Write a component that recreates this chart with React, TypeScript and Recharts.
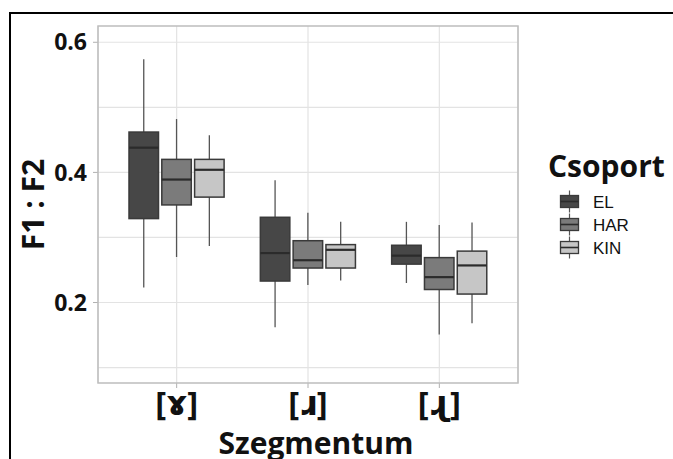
import { ComposedChart, Bar, XAxis, YAxis, CartesianGrid, Label } from 'recharts'

// segments on the x axis, groups side by side inside each
const segments = ['[ɤ]', '[ɹ]', '[ɻ]']
const groups = ['EL', 'HAR', 'KIN']

// five-number summaries, one value per segment
const elMin = [0.223, 0.162, 0.230]
const elQ1 = [0.329, 0.233, 0.259]
const elMed = [0.438, 0.276, 0.272]
const elQ3 = [0.462, 0.331, 0.288]
const elMax = [0.574, 0.388, 0.324]

const harMin = [0.270, 0.227, 0.151]
const harQ1 = [0.350, 0.253, 0.220]
const harMed = [0.389, 0.265, 0.239]
const harQ3 = [0.420, 0.295, 0.269]
const harMax = [0.482, 0.338, 0.319]

const kinMin = [0.287, 0.234, 0.168]
const kinQ1 = [0.362, 0.253, 0.213]
const kinMed = [0.404, 0.281, 0.257]
const kinQ3 = [0.420, 0.289, 0.279]
const kinMax = [0.457, 0.324, 0.323]

const yDomain = [0.0763, 0.625]
const yTicks = [0.2, 0.4, 0.6]
const gridValues = [0.1, 0.2, 0.3, 0.4, 0.5, 0.6]

const FILLS: Record<string, string> = { EL: '#474747', HAR: '#7b7b7b', KIN: '#c6c6c6' }
const BOLD = '"Open Sans", "DejaVu Sans", sans-serif'
const GRID = '#e3e3e3'

type Stats = { min: number; q1: number; med: number; q3: number; max: number }

const stats = (mn: number[], q1: number[], md: number[], q3: number[], mx: number[], i: number): Stats => ({
  min: mn[i], q1: q1[i], med: md[i], q3: q3[i], max: mx[i],
})

const data = segments.map((seg, i) => ({
  seg,
  EL: stats(elMin, elQ1, elMed, elQ3, elMax, i),
  HAR: stats(harMin, harQ1, harMed, harQ3, harMax, i),
  KIN: stats(kinMin, kinQ1, kinMed, kinQ3, kinMax, i),
}))

function BoxShape({ x, y, width, height, s, fill }: any) {
  // the bar covers [min, max], so map the quartiles inside that span
  const top = Math.min(y, y + height)
  const bottom = Math.max(y, y + height)
  const py = (v: number) => bottom - ((v - s.min) / (s.max - s.min)) * (bottom - top)
  const cx = x + width / 2
  return (
    <g>
      <line x1={cx} x2={cx} y1={py(s.max)} y2={py(s.q3)} stroke="#555" strokeWidth={1.3} />
      <line x1={cx} x2={cx} y1={py(s.q1)} y2={py(s.min)} stroke="#555" strokeWidth={1.3} />
      <rect x={x} y={py(s.q3)} width={width} height={py(s.q1) - py(s.q3)} fill={fill} stroke="#3a3a3a" strokeWidth={1.5} />
      <line x1={x} x2={x + width} y1={py(s.med)} y2={py(s.med)} stroke="#2b2b2b" strokeWidth={2.2} />
    </g>
  )
}

function LegendKey({ cx, cy, fill }: { cx: number; cy: number; fill: string }) {
  return (
    <g>
      <line x1={cx} x2={cx} y1={cy - 11} y2={cy + 11} stroke="#555" strokeWidth={1.2} />
      <rect x={cx - 9} y={cy - 6} width={18} height={12} fill={fill} stroke="#3a3a3a" strokeWidth={1.3} />
      <line x1={cx - 9} x2={cx + 9} y1={cy} y2={cy} stroke="#2b2b2b" strokeWidth={1.6} />
    </g>
  )
}

export default function App() {
  return (
    <div style={{ position: 'absolute', left: 0, top: 0, width: 673, height: 459, overflow: 'hidden', background: '#fff' }}>
      <div style={{ position: 'absolute', left: 9, top: 12, width: 720, height: 520, borderTop: '2px solid #000', borderLeft: '2px solid #000' }} />
      <ComposedChart
        width={673}
        height={459}
        data={data}
        margin={{ top: 26, right: 155, bottom: 0, left: 0 }}
        barSize={29.5}
        barGap={3.3}
        style={{ position: 'absolute', left: 0, top: 0 }}
      >
        <CartesianGrid stroke={GRID} strokeWidth={1.2} horizontalValues={gridValues} />
        <XAxis
          dataKey="seg"
          height={76}
          padding={{ left: 13, right: 13 }}
          axisLine={false}
          tickSize={5}
          tickMargin={4}
          tickLine={{ stroke: '#b0b0b0' }}
          tick={{ fontSize: 33, fontWeight: 700, fill: '#111', fontFamily: BOLD }}
          interval={0}
        >
          <Label
            content={({ viewBox }: any) => (
              <text x={viewBox.x + viewBox.width / 2 + 8} y={viewBox.y + 71} textAnchor="middle" fontSize={30} fontWeight={700} fill="#111" fontFamily={BOLD}>
                Szegmentum
              </text>
            )}
          />
        </XAxis>
        <YAxis
          type="number"
          domain={yDomain}
          allowDataOverflow
          ticks={yTicks}
          width={98}
          axisLine={false}
          tickSize={5}
          tickMargin={6}
          tickLine={{ stroke: '#b0b0b0' }}
          tick={{ fontSize: 23, fontWeight: 700, fill: '#111', fontFamily: BOLD }}
        >
          <Label
            content={({ viewBox }: any) => {
              const lx = viewBox.x + 32
              const ly = viewBox.y + viewBox.height / 2
              return (
                <text x={lx} y={ly} transform={`rotate(-90 ${lx} ${ly})`} textAnchor="middle" dominantBaseline="central" fontSize={30} fontWeight={700} fill="#111" fontFamily={BOLD}>
                  F1 : F2
                </text>
              )
            }}
          />
        </YAxis>
        {groups.map((g) => (
          <Bar
            key={g}
            dataKey={(d: any) => [d[g].min, d[g].max]}
            isAnimationActive={false}
            shape={(p: any) => <BoxShape {...p} s={p.payload[g]} fill={FILLS[g]} />}
          />
        ))}
      </ComposedChart>
      <svg width={673} height={459} style={{ position: 'absolute', left: 0, top: 0, pointerEvents: 'none' }}>
        <rect x={98} y={26} width={420} height={357} fill="none" stroke="#bdbdbd" strokeWidth={1.5} />
        <text x={548} y={177} fontSize={30} fontWeight={700} fill="#111" fontFamily={BOLD}>Csoport</text>
        {groups.map((g, i) => (
          <g key={g}>
            <LegendKey cx={569.5} cy={201.5 + i * 23} fill={FILLS[g]} />
            <text x={593} y={207.8 + i * 23} fontSize={17} fill="#111" fontFamily='"Liberation Sans", Arial, sans-serif'>{g}</text>
          </g>
        ))}
      </svg>
    </div>
  )
}
